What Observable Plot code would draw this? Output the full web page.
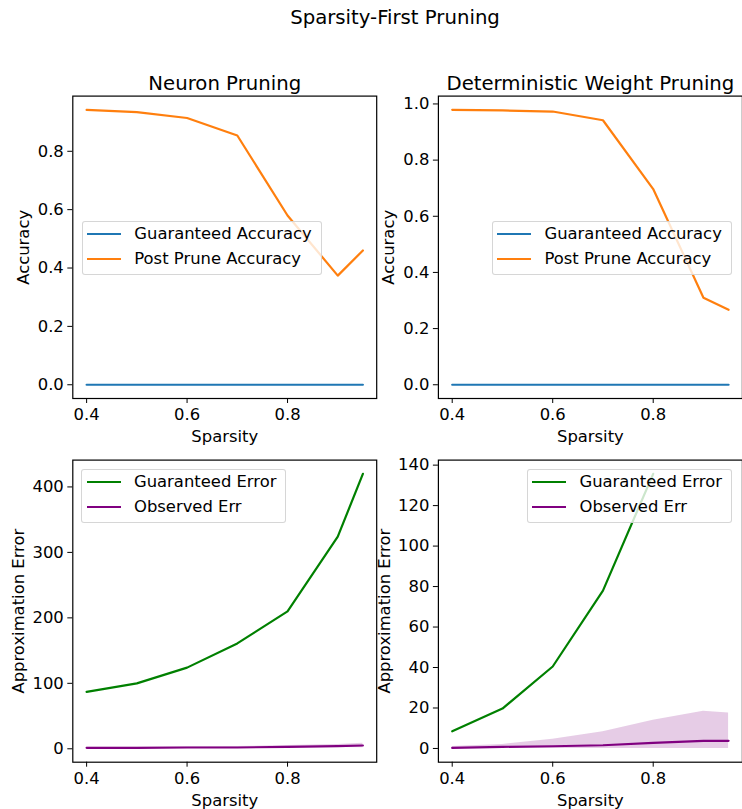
<!DOCTYPE html>
<html>
<head>
<meta charset="utf-8">
<script src="https://cdn.jsdelivr.net/npm/d3@7"></script>
<script src="https://cdn.jsdelivr.net/npm/@observablehq/plot@0.6"></script>
<style>
  html, body { margin: 0; padding: 0; background: #fff; }
  #fig { position: relative; width: 742px; height: 809px; overflow: hidden;
         font-family: "DejaVu Sans", sans-serif; color: #000; background: #fff; }
  #fig svg { position: absolute; left: 0; top: 0; }
  #suptitle { position: absolute; top: 8.3px; left: 195px; width: 400px; text-align: center;
              font-size: 19.7px; line-height: 19.7px; white-space: nowrap; }
  .legend { position: absolute; box-sizing: border-box; height: 54px;
            background: rgba(255,255,255,0.8); border: 1px solid rgba(204,204,204,0.8);
            border-radius: 3px; padding: 0.2px 9px 0 4.5px; font-size: 16.4px; }
  .legend .row { display: flex; align-items: center; height: 24.7px; white-space: nowrap; }
  .legend .handle { display: inline-block; width: 34px; height: 2.2px; margin-right: 13.3px; }
  .legend .lab { line-height: 1; }
</style>
</head>
<body>
<div id="fig"><div id="suptitle"></div></div>
<script>
// ---------------- data ----------------
const figureTitle = "Sparsity-First Pruning";
const panelTitles = ["Neuron Pruning", "Deterministic Weight Pruning"];
const xLabel = "Sparsity";
const accLabel = "Accuracy";
const errLabel = "Approximation Error";
const accSeriesNames = ["Guaranteed Accuracy", "Post Prune Accuracy"];
const errSeriesNames = ["Guaranteed Error", "Observed Err"];

const sparsity = [0.4, 0.5, 0.6, 0.7, 0.8, 0.9, 0.95];
const xTicks = [0.4, 0.6, 0.8];

// Neuron pruning
const neuronGuaranteedAcc = [0, 0, 0, 0, 0, 0, 0];
const neuronPostPruneAcc = [0.942, 0.934, 0.914, 0.854, 0.580, 0.374, 0.460];
const neuronGuaranteedErr = [87, 100, 124, 161, 210, 324, 420];
const neuronObservedErr = [1.5, 1.5, 2.0, 2.0, 3.0, 4.0, 5.0];
const neuronObservedLo = [0.5, 0.5, 1.0, 1.0, 1.5, 2.0, 1.5];
const neuronObservedHi = [2.5, 2.5, 3.0, 3.5, 5.0, 6.5, 8.5];

// Deterministic weight pruning
const weightGuaranteedAcc = [0, 0, 0, 0, 0, 0, 0];
const weightPostPruneAcc = [0.979, 0.977, 0.973, 0.942, 0.697, 0.310, 0.267];
const weightGuaranteedErr = [8.5, 19.7, 40.5, 78, 135.7, null, null];
const weightObservedErr = [0.3, 0.8, 1.1, 1.6, 2.8, 3.8, 3.8];
const weightObservedLo = [0, 0, 0, 0, 0, 0, 0];
const weightObservedHi = [1.0, 2.0, 4.6, 8.2, 13.9, 18.4, 17.5];

const accTicksNeuron = [0, 0.2, 0.4, 0.6, 0.8];
const accTicksWeight = [0, 0.2, 0.4, 0.6, 0.8, 1.0];
const errTicksNeuron = [0, 100, 200, 300, 400];
const errTicksWeight = [0, 20, 40, 60, 80, 100, 120, 140];

// ---------------- helpers ----------------
const W = 742, H = 809;
const FONT = 16.4, TFONT = 19.7;
const C = { blue: "#1f77b4", orange: "#ff7f0e", green: "#008000", purple: "#800080" };

const rows = (ys) => sparsity.map((x, i) => ({ x, y: ys[i] })).filter(d => d.y != null);
const band = (lo, hi) => sparsity.map((x, i) => ({ x, lo: lo[i], hi: hi[i] }));
function padded(values) {
  const v = values.flat().filter(d => d != null);
  const [a, b] = d3.extent(v);
  const m = (b - a) * 0.05;
  return [a - m, b + m];
}
const xDomain = padded([sparsity]);

function panel({ frame, yDomain, yTicks, yFormat, yLabel, yLabelDx, title, marks }) {
  const [left, right, top, bottom] = frame;
  const extra = [];
  if (title) extra.push(Plot.text([title], { text: d => d, frameAnchor: "top", textAnchor: "middle", lineAnchor: "bottom", dy: -6.3, fontSize: TFONT }));
  extra.push(Plot.text([xLabel], { text: d => d, frameAnchor: "bottom", textAnchor: "middle", lineAnchor: "bottom", dy: 43.5, fontSize: FONT }));
  extra.push(Plot.text([yLabel], { text: d => d, frameAnchor: "left", textAnchor: "middle", lineAnchor: "middle", rotate: -90, dx: yLabelDx, fontSize: FONT }));
  return Plot.plot({
    width: W, height: H,
    marginLeft: left, marginRight: W - right, marginTop: top, marginBottom: H - bottom,
    style: { background: "transparent", overflow: "visible", fontFamily: "DejaVu Sans", fontSize: FONT + "px", color: "#000" },
    x: { domain: xDomain },
    y: { domain: yDomain },
    marks: [
      ...marks,
      Plot.frame({ stroke: "#000", strokeWidth: 1.2 }),
      Plot.axisX(xTicks, { tickFormat: d3.format(".1f"), tickSize: 5, tickPadding: 5, label: null, fontSize: FONT }),
      Plot.axisY(yTicks, { tickFormat: yFormat, tickSize: 5, tickPadding: 4, label: null, fontSize: FONT }),
      ...extra
    ]
  });
}

const fig = document.getElementById("fig");
document.getElementById("suptitle").textContent = figureTitle;

const SW = 2.2;
// Top-left: neuron accuracy
fig.appendChild(panel({
  frame: [72.3, 376.2, 95.6, 398],
  yDomain: padded([neuronGuaranteedAcc, neuronPostPruneAcc]),
  yTicks: accTicksNeuron, yFormat: d3.format(".1f"),
  yLabel: accLabel, yLabelDx: -49.3, title: panelTitles[0],
  marks: [
    Plot.lineY(rows(neuronGuaranteedAcc), { x: "x", y: "y", stroke: C.blue, strokeWidth: SW }),
    Plot.lineY(rows(neuronPostPruneAcc), { x: "x", y: "y", stroke: C.orange, strokeWidth: SW })
  ]
}));
// Top-right: weight accuracy
fig.appendChild(panel({
  frame: [437.9, 741.9, 95.6, 398],
  yDomain: padded([weightGuaranteedAcc, weightPostPruneAcc]),
  yTicks: accTicksWeight, yFormat: d3.format(".1f"),
  yLabel: accLabel, yLabelDx: -49.3, title: panelTitles[1],
  marks: [
    Plot.lineY(rows(weightGuaranteedAcc), { x: "x", y: "y", stroke: C.blue, strokeWidth: SW }),
    Plot.lineY(rows(weightPostPruneAcc), { x: "x", y: "y", stroke: C.orange, strokeWidth: SW })
  ]
}));
// Bottom-left: neuron error
fig.appendChild(panel({
  frame: [72.3, 376.2, 459.6, 761.7],
  yDomain: padded([neuronGuaranteedErr, neuronObservedErr, neuronObservedLo, neuronObservedHi]),
  yTicks: errTicksNeuron, yFormat: d3.format("d"),
  yLabel: errLabel, yLabelDx: -53.9, title: null,
  marks: [
    Plot.lineY(rows(neuronGuaranteedErr), { x: "x", y: "y", stroke: C.green, strokeWidth: SW }),
    Plot.areaY(band(neuronObservedLo, neuronObservedHi), { x: "x", y1: "lo", y2: "hi", fill: C.purple, fillOpacity: 0.2 }),
    Plot.lineY(rows(neuronObservedErr), { x: "x", y: "y", stroke: C.purple, strokeWidth: SW })
  ]
}));
// Bottom-right: weight error
fig.appendChild(panel({
  frame: [437.9, 741.9, 459.6, 761.7],
  yDomain: padded([weightGuaranteedErr, weightObservedErr, weightObservedLo, weightObservedHi]),
  yTicks: errTicksWeight, yFormat: d3.format("d"),
  yLabel: errLabel, yLabelDx: -53.9, title: null,
  marks: [
    Plot.lineY(rows(weightGuaranteedErr), { x: "x", y: "y", stroke: C.green, strokeWidth: SW }),
    Plot.areaY(band(weightObservedLo, weightObservedHi), { x: "x", y1: "lo", y2: "hi", fill: C.purple, fillOpacity: 0.2 }),
    Plot.lineY(rows(weightObservedErr), { x: "x", y: "y", stroke: C.purple, strokeWidth: SW })
  ]
}));

// ---------------- legends ----------------
function legend(left, top, names, colors) {
  const box = document.createElement("div");
  box.className = "legend";
  box.style.left = left + "px";
  box.style.top = top + "px";
  names.forEach((n, i) => {
    const r = document.createElement("div");
    r.className = "row";
    const h = document.createElement("span");
    h.className = "handle";
    h.style.background = colors[i];
    const t = document.createElement("span");
    t.className = "lab";
    t.textContent = n;
    r.appendChild(h); r.appendChild(t);
    box.appendChild(r);
  });
  fig.appendChild(box);
}
legend(81.5, 220.5, accSeriesNames, [C.blue, C.orange]);
legend(491.7, 220.5, accSeriesNames, [C.blue, C.orange]);
legend(81.2, 468.8, errSeriesNames, [C.green, C.purple]);
legend(526.7, 468.8, errSeriesNames, [C.green, C.purple]);
</script>
</body>
</html>
